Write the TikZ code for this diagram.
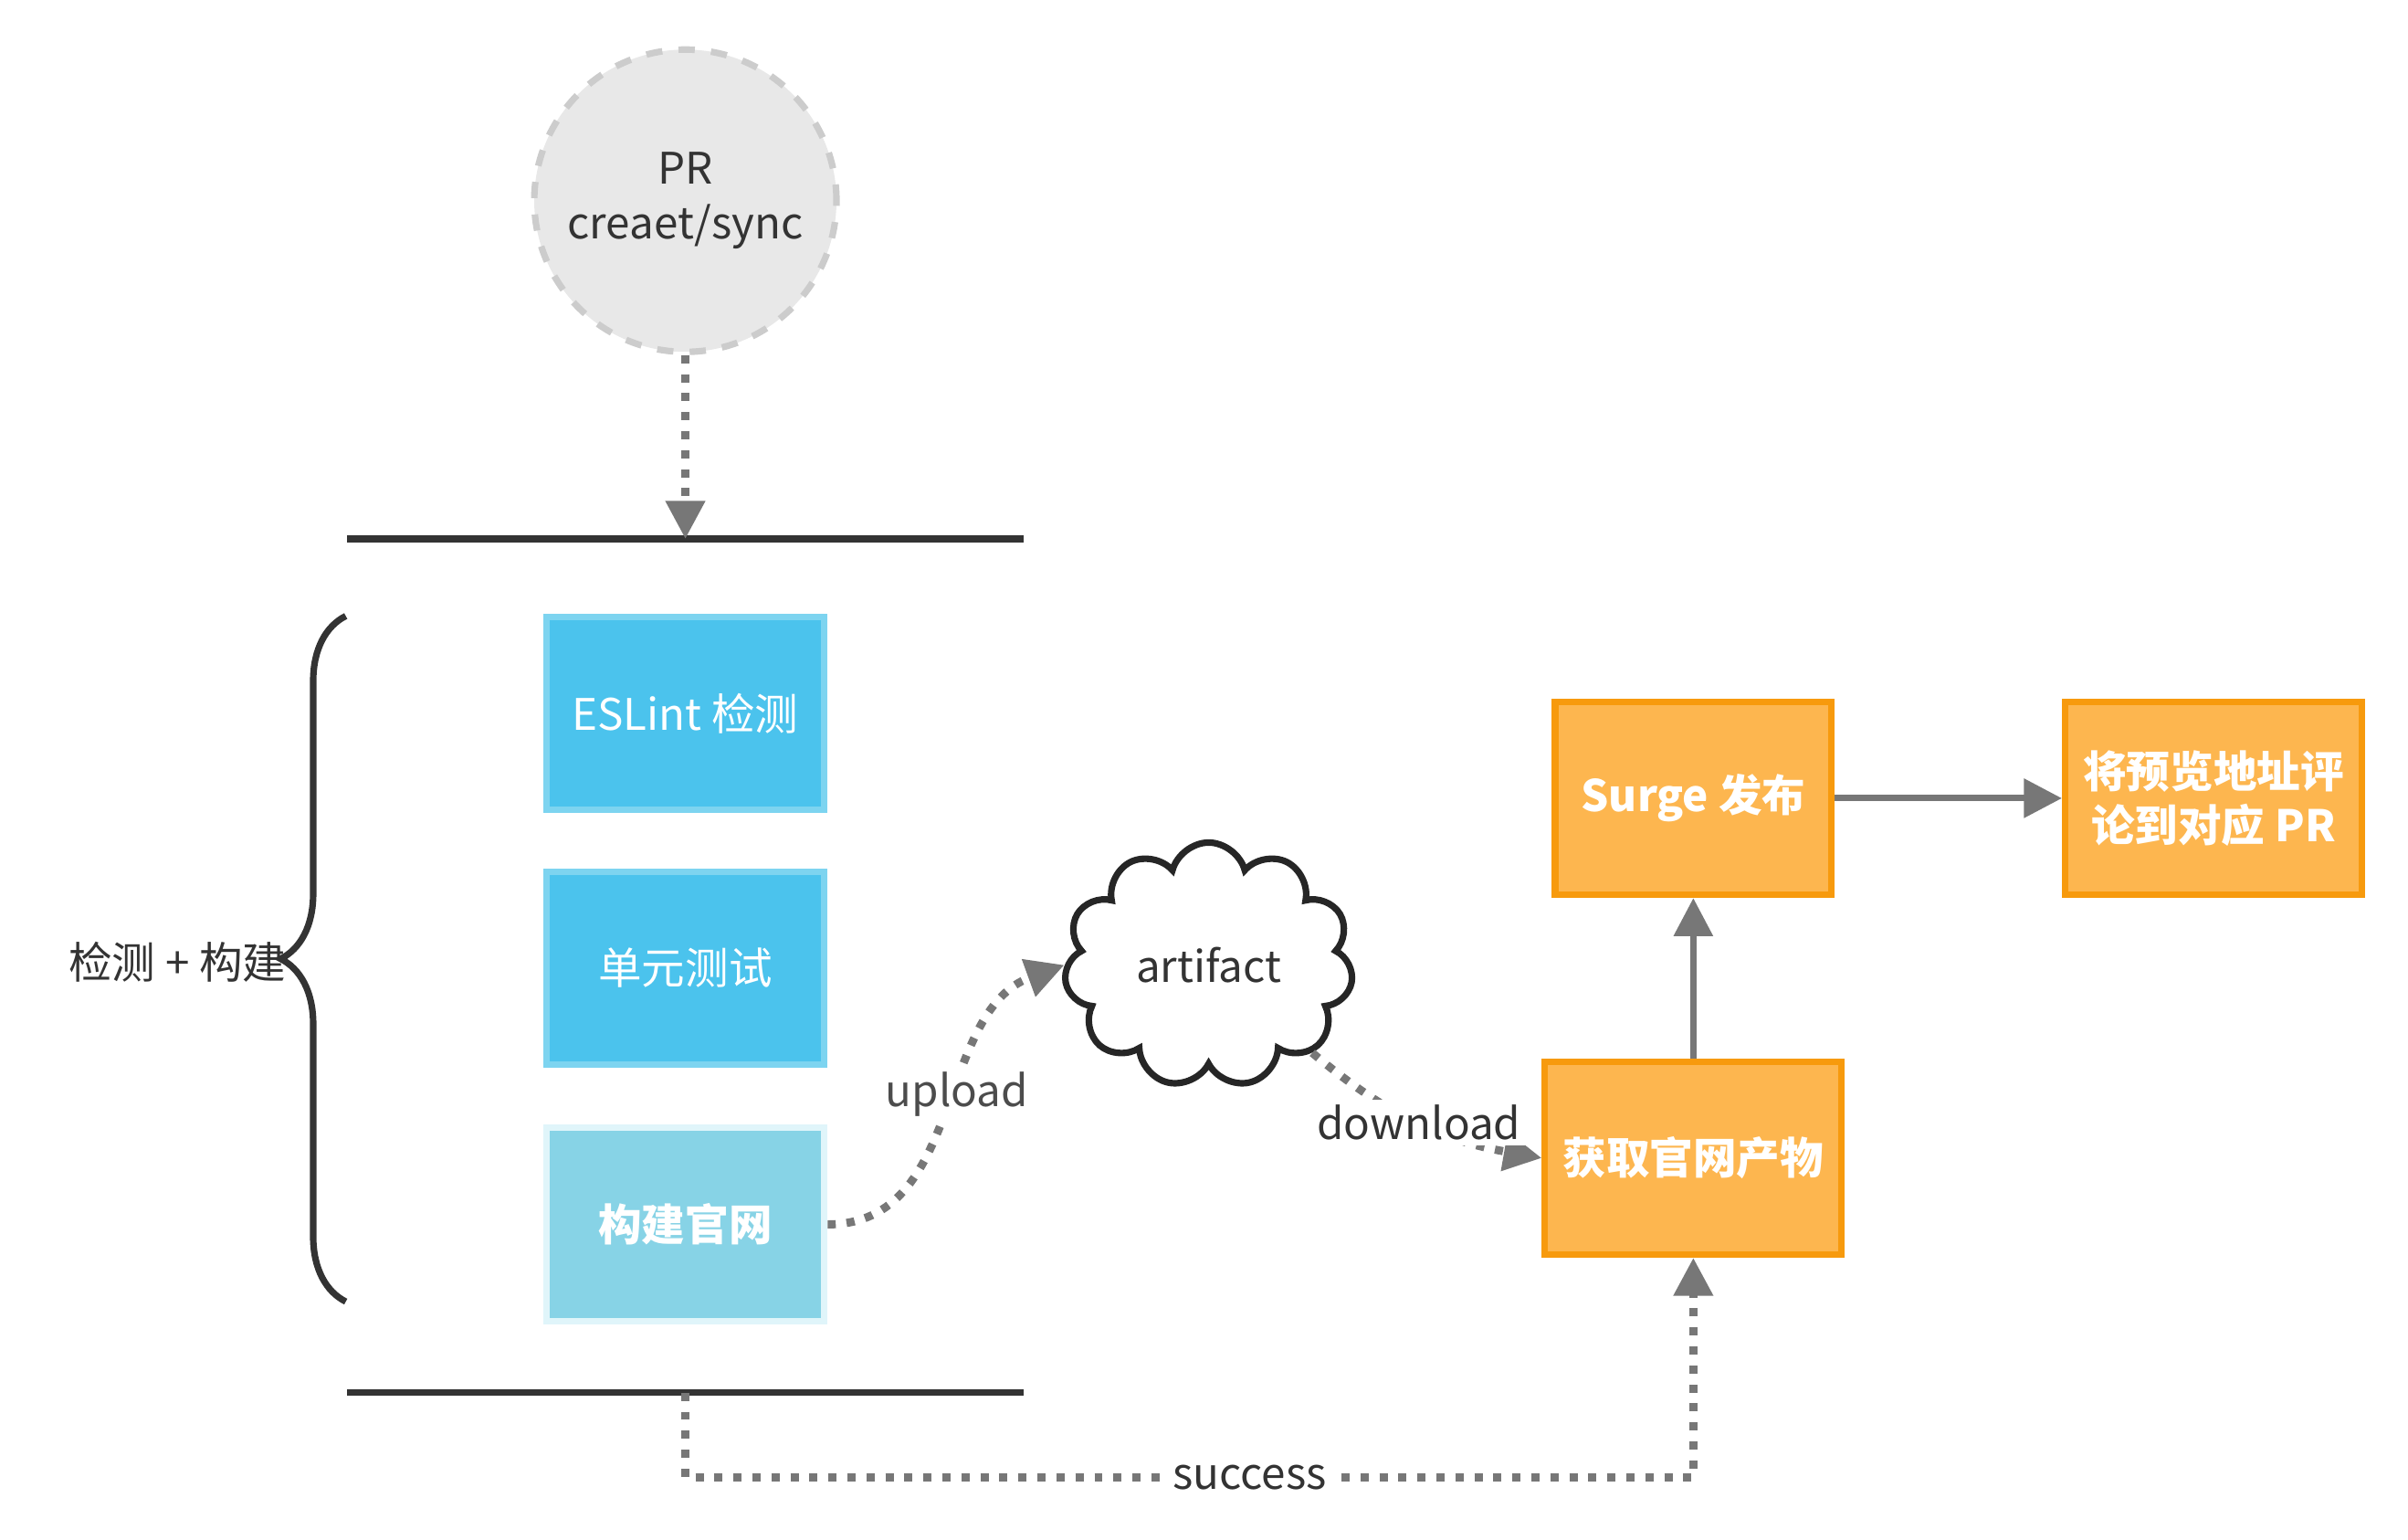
\documentclass[tikz,border=0pt]{standalone}
\usepackage{fontspec}
\setmainfont{Noto Sans CJK SC}
\usetikzlibrary{shapes.symbols,decorations.pathreplacing,arrows.meta}
\definecolor{bluebox}{HTML}{4BC3ED}
\definecolor{blueedge}{HTML}{7DD4F0}
\definecolor{lightbox}{HTML}{87D3E6}
\definecolor{lightedge}{HTML}{E0F5FA}
\definecolor{orangebox}{HTML}{FDB64F}
\definecolor{orangeedge}{HTML}{F79A0D}
\definecolor{linkgray}{HTML}{777777}
\begin{document}
\begin{tikzpicture}[x=0.01cm, y=-0.01cm,
    every node/.style={font=\fontsize{8}{10}\selectfont, text=black!80},
    job/.style={draw=blueedge, fill=bluebox, line width=1.2pt, minimum width=1.8cm, minimum height=1.25cm, text=white},
    task/.style={draw=orangeedge, fill=orangebox, line width=1.2pt, minimum width=1.79cm, minimum height=1.25cm, text=white, align=center, font=\fontsize{8}{10}\selectfont\bfseries},
    dotlink/.style={draw=linkgray, line width=1.5pt, dotted, -{Triangle[length=7pt,width=7pt]}},
    solidlink/.style={draw=linkgray, line width=1.2pt, -{Triangle[length=7pt,width=7pt]}}]
  \useasboundingbox (0,0) rectangle (1560,997);
  % trigger
  \node[circle, draw=black!20, fill=black!9, dashed, line width=1.2pt, minimum size=1.7cm, align=center] (pr) at (444,130) {PR\\creaet/sync};
  % stage borders
  \draw[line width=1.2pt, black!80] (225,349) -- (663,349);
  \draw[line width=1.2pt, black!80] (225,902) -- (663,902);
  \coordinate (top) at (444,349);
  \coordinate (bottom) at (444,902);
  % jobs
  \node[job] (lint) at (444,462) {ESLint 检测};
  \node[job] (unit) at (444,627) {单元测试};
  \node[job, fill=lightbox, draw=lightedge, font=\fontsize{8}{10}\selectfont\bfseries] (build) at (444,793) {构建官网};
  \draw[decorate, decoration={brace, amplitude=12pt}, line width=1.2pt, black!80] (224,843) -- (224,399);
  \node (stage) at (115,623) {检测 + 构建};
  \node[cloud, draw=black!85, line width=1.2pt, cloud puffs=11, minimum width=1.55cm, minimum height=1.2cm, aspect=1.3] (art) at (783,625) {artifact};
  % deploy
  \node[task] (fetch) at (1097,750) {获取官网产物};
  \node[task] (surge) at (1097,517) {Surge 发布};
  \node[task] (comment) at (1434,517) {将预览地址评\\论到对应 PR};
  % links
  \draw[dotlink] (pr) -- (top);
  \draw[dotlink] (build.east) to[out=0, in=200] node[pos=0.55, fill=white, inner sep=1pt, text=black!70] {upload} (art.west);
  \draw[dotlink] (art.south east) to[out=-40, in=170] node[pos=0.5, fill=white, inner sep=1pt] {download} (fetch.west);
  \draw[solidlink] (fetch) -- (surge);
  \draw[solidlink] (surge) -- (comment);
  \draw[dotlink] (bottom) -- (444,957) -- node[pos=0.56, fill=white, inner sep=1pt] {success} (1097,957) -- (fetch.south);
\end{tikzpicture}
\end{document}
